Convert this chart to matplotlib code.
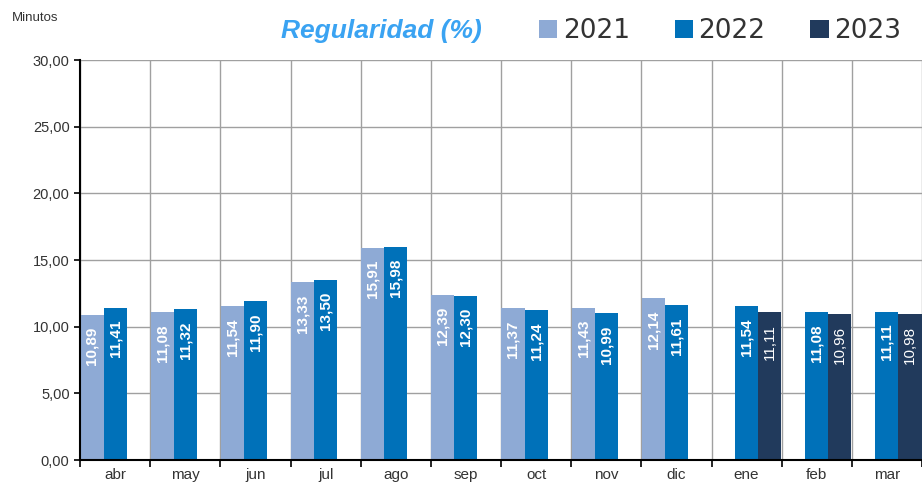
import matplotlib
matplotlib.use("Agg")
import matplotlib.pyplot as plt
from matplotlib.patches import Patch
import numpy as np

plt.rcParams['font.family'] = ['Liberation Sans', 'DejaVu Sans']

months = ["abr", "may", "jun", "jul", "ago", "sep", "oct", "nov", "dic", "ene", "feb", "mar"]
v2021 = [10.89, 11.08, 11.54, 13.33, 15.91, 12.39, 11.37, 11.43, 12.14, None, None, None]
v2022 = [11.41, 11.32, 11.90, 13.50, 15.98, 12.30, 11.24, 10.99, 11.61, 11.54, 11.08, 11.11]
v2023 = [None, None, None, None, None, None, None, None, None, 11.11, 10.96, 10.98]
series_names = ["2021", "2022", "2023"]
colors = ["#8eaad5", "#0071b9", "#213a5c"]
yticks = [0, 5, 10, 15, 20, 25, 30]

fig = plt.figure(figsize=(9.22, 4.93), dpi=100)
ax = fig.add_axes([80/922, 1-460/493, 1-80/922, 400/493])

x = np.arange(len(months))
w = 0.33
series = [v2021, v2022, v2023]
for i, (vals, c, name) in enumerate(zip(series, colors, series_names)):
    xs = [xi + (i-1)*w for xi, v in zip(x, vals) if v is not None]
    ys = [v for v in vals if v is not None]
    ax.bar(xs, ys, width=w, color=c, zorder=3, label=name)
    for xx, yy in zip(xs, ys):
        ax.text(xx, yy - 0.9, f"{yy:.2f}".replace(".", ","), rotation=90,
                ha='center', va='top', color='white', fontsize=11,
                fontweight='normal' if i == 2 else 'bold', zorder=4)

ax.set_xlim(-0.5, 11.5)
ax.set_ylim(0, 30)
ax.set_yticks(yticks)
ax.set_yticklabels([f"{t:.2f}".replace(".", ",") for t in yticks], fontsize=10.5, color='#333333')
ax.set_xticks(x)
ax.set_xticklabels(months, fontsize=11, color='#333333')
ax.tick_params(axis='x', length=0, pad=6)
ax.tick_params(axis='y', length=4, width=1.2, color='black', direction='out')
ax.set_xticks(np.arange(-0.5, 12, 1), minor=True)
ax.tick_params(axis='x', which='minor', length=5, width=1.2, color='black', direction='out')

ax.grid(axis='y', color='#a0a0a0', linewidth=1, zorder=0)
ax.grid(axis='x', which='minor', color='#a0a0a0', linewidth=1, zorder=0)
for s in ['top', 'right']:
    ax.spines[s].set_visible(False)
ax.spines['left'].set_linewidth(1.5)
ax.spines['bottom'].set_linewidth(1.5)
ax.spines['left'].set_zorder(5)
ax.spines['bottom'].set_zorder(5)

fig.text(12/922, 1-18/493, "Minutos", fontsize=9.5, color='#333333', va='center', ha='left')
fig.text(381/922, 1-31/493, "Regularidad (%)", fontsize=19, color='#3aa3f2',
         fontweight='bold', fontstyle='italic', va='center', ha='center')

handles = [Patch(facecolor=c) for c in colors]
leg = fig.legend(handles, series_names, loc='center', bbox_to_anchor=(720/922, 1-31/493),
                 ncol=3, frameon=False, handlelength=0.7, handleheight=0.7,
                 handletextpad=0.2, columnspacing=1.7, prop={'family': 'DejaVu Sans', 'size': 19})
for t in leg.get_texts():
    t.set_color('#333333')

fig.savefig("out.png", dpi=100)
